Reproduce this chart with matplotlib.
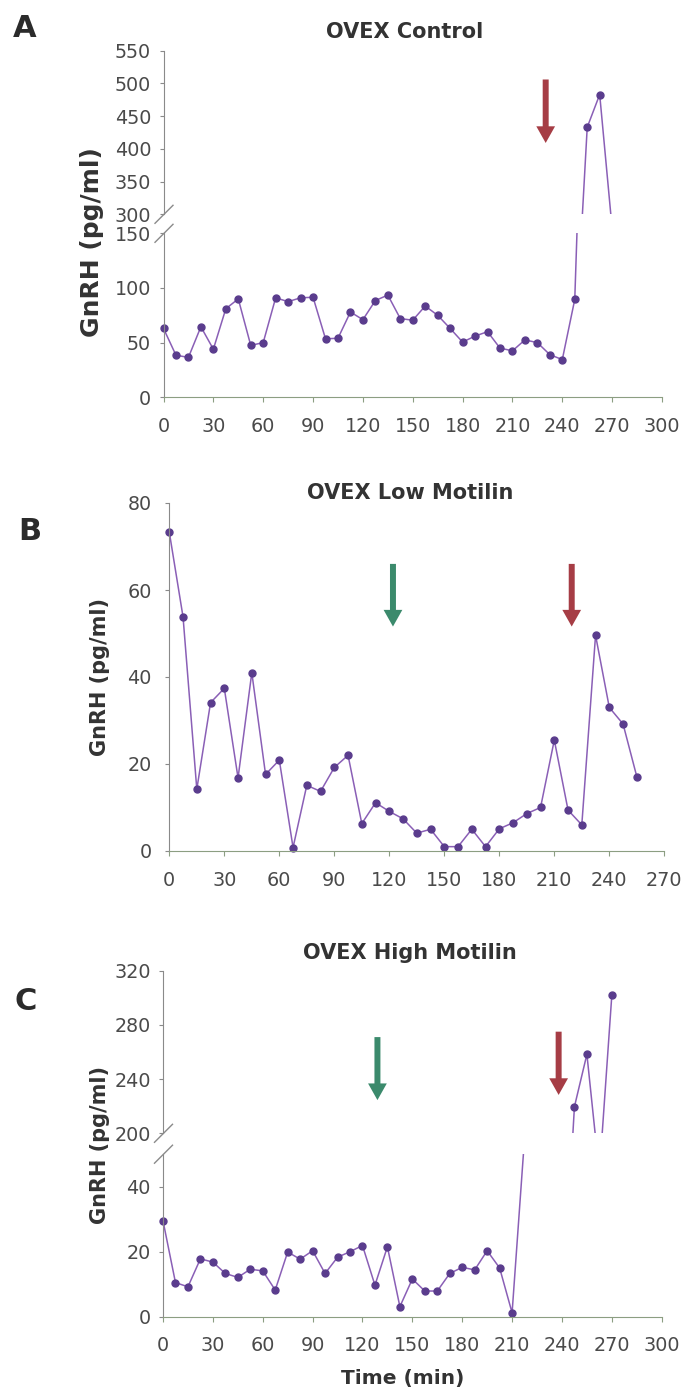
import numpy as np
import matplotlib.pyplot as plt
from matplotlib.lines import Line2D
from matplotlib.patches import Rectangle

plt.rcParams['font.family'] = ['DejaVu Sans']

# ---- data ----
time_a = [0, 7.5, 15, 22.5, 30, 37.5, 45, 52.5, 60, 67.5, 75, 82.5, 90, 97.5,
          105, 112.5, 120, 127.5, 135, 142.5, 150, 157.5, 165, 172.5, 180,
          187.5, 195, 202.5, 210, 217.5, 225, 232.5, 240, 247.5, 255, 262.5, 270]
gnrh_a = [63, 38.5, 36.5, 64.5, 44, 81, 90, 47.5, 50, 91, 87.5, 91, 91.5, 53.5,
          54, 78, 71, 88.5, 93.5, 72, 70.5, 83.5, 75, 63, 50.5, 56, 60, 45,
          42.5, 52.5, 50, 39, 34.5, 89.5, 433, 483, 278]

time_b = [0, 7.5, 15, 22.5, 30, 37.5, 45, 52.5, 60, 67.5, 75, 82.5, 90, 97.5,
          105, 112.5, 120, 127.5, 135, 142.5, 150, 157.5, 165, 172.5, 180,
          187.5, 195, 202.5, 210, 217.5, 225, 232.5, 240, 247.5, 255]
gnrh_b = [73.3, 53.8, 14.2, 34.1, 37.4, 16.8, 41, 17.6, 20.9, 0.8, 15.1, 13.7,
          19.2, 22, 6.3, 11.1, 9.1, 7.4, 4.1, 5, 1, 1, 5, 1, 5.1, 6.5, 8.6, 10,
          25.5, 9.4, 6, 49.6, 33, 29.2, 17.1]

time_c = [0, 7.5, 15, 22.5, 30, 37.5, 45, 52.5, 60, 67.5, 75, 82.5, 90, 97.5,
          105, 112.5, 120, 127.5, 135, 142.5, 150, 157.5, 165, 172.5, 180,
          187.5, 195, 202.5, 210, 217.5, 225, 232.5, 240, 247.5, 255, 262.5, 270]
gnrh_c = [29.5, 10.5, 9.2, 17.8, 16.8, 13.3, 12.1, 14.6, 14.1, 8.2, 19.9, 17.7,
          20.3, 13.3, 18.3, 20, 21.9, 9.7, 21.5, 3.1, 11.6, 7.9, 7.9, 13.3, 15.2,
          14.4, 20.3, 15, 1.2, 55, np.nan, np.nan, 60, 219.6, 258.3, 170, 302]

titles = ['OVEX Control', 'OVEX Low Motilin', 'OVEX High Motilin']

# ---- style ----
W, H = 687, 1391
LINE = '#8a5fb6'
MARK = '#5a3c8d'
AX_GRAY = '#8a8a8a'
AX_GREEN = '#8c9e82'
TXT = '#4a4a4a'
DARK = '#333333'
RED = '#a63d45'
GREEN = '#3b8a6c'
TICK_FS = 13.8

fig = plt.figure(figsize=(W / 100, H / 100), dpi=100)
fig.patch.set_facecolor('white')


def px_axes(x0, x1, ytop, ybot):
    return fig.add_axes([x0 / W, 1 - ybot / H, (x1 - x0) / W, (ybot - ytop) / H])


def style(ax, bottom=True, ypad=6):
    ax.set_facecolor('none')
    for s in ['top', 'right']:
        ax.spines[s].set_visible(False)
    ax.spines['left'].set_color(AX_GRAY)
    ax.spines['bottom'].set_color(AX_GREEN)
    ax.tick_params(axis='y', direction='out', length=2.9, width=0.8,
                   colors=AX_GRAY, pad=ypad)
    ax.tick_params(axis='y', labelcolor=TXT, labelsize=TICK_FS)
    ax.tick_params(axis='x', direction='out', length=3.6, width=0.8,
                   colors=AX_GREEN, pad=10.5)
    ax.tick_params(axis='x', labelcolor=TXT, labelsize=TICK_FS)
    if not bottom:
        ax.spines['bottom'].set_visible(False)
        ax.tick_params(axis='x', bottom=False, labelbottom=False)


def draw(ax, t, v, clip=None):
    lines = ax.plot(t, v, color=LINE, lw=1.1, marker='o', ms=5,
                    mfc=MARK, mec=MARK)
    for ln in lines:
        if clip is None:
            ln.set_clip_on(False)
        else:
            ln.set_clip_path(Rectangle(clip[:2], clip[2], clip[3],
                                       transform=ax.transAxes))


def brk(x, y):
    fig.add_artist(Line2D([(x - 9) / W, (x + 9) / W],
                          [1 - (y + 9) / H, 1 - (y - 9) / H],
                          transform=fig.transFigure, color=AX_GRAY, lw=1))


def arrow(ax, t, top, tip, color):
    ax.annotate('', xy=(t, tip), xytext=(t, top), annotation_clip=False,
                arrowprops=dict(facecolor=color, edgecolor='none', width=4.3,
                                headwidth=13.5, headlength=12, shrink=0))


LOWCLIP = (-0.05, -0.06, 1.1, 1.06)
UPCLIP = (-0.05, 0, 1.1, 1.06)

# ---- panel A ----
a_up = px_axes(163.5, 662, 50.7, 214.3)
a_lo = px_axes(163.5, 662, 233.3, 397.3)
for ax in (a_up, a_lo):
    ax.set_xlim(0, 300)
a_up.set_ylim(300, 550)
a_up.set_yticks(np.arange(300, 551, 50))
a_lo.set_ylim(0, 150)
a_lo.set_yticks([0, 50, 100, 150])
a_lo.set_xticks(np.arange(0, 301, 30))
style(a_up, bottom=False)
style(a_lo)
draw(a_up, time_a, gnrh_a, UPCLIP)
draw(a_lo, time_a, gnrh_a, LOWCLIP)
arrow(a_up, 230, 506, 409, RED)
brk(164, 214.3)
brk(164, 233.3)

# ---- panel B ----
b = px_axes(169.3, 664.3, 503, 851)
b.set_xlim(0, 270)
b.set_ylim(0, 80)
b.set_xticks(np.arange(0, 271, 30))
b.set_yticks([0, 20, 40, 60, 80])
style(b, ypad=9.8)
draw(b, time_b, gnrh_b)
arrow(b, 122, 66, 51.6, GREEN)
arrow(b, 219.5, 66, 51.6, RED)

# ---- panel C ----
c_up = px_axes(163, 661.7, 970.7, 1133.3)
c_lo = px_axes(163, 661.7, 1154.2, 1316.7)
for ax in (c_up, c_lo):
    ax.set_xlim(0, 300)
c_up.set_ylim(200, 320)
c_up.set_yticks([200, 240, 280, 320])
c_lo.set_ylim(0, 50)
c_lo.set_yticks([0, 20, 40])
c_lo.set_xticks(np.arange(0, 301, 30))
style(c_up, bottom=False)
style(c_lo)
draw(c_up, time_c, gnrh_c, UPCLIP)
draw(c_lo, time_c, gnrh_c, LOWCLIP)
arrow(c_up, 129, 271, 224.5, GREEN)
arrow(c_up, 238, 275, 228.3, RED)
brk(163.5, 1133.3)
brk(163.5, 1154.2)

# ---- texts ----
for (x, y), s in zip([(405, 38.3), (410, 499.4), (410, 959.4)], titles):
    fig.text(x / W, 1 - y / H, s, ha='center', va='baseline', fontsize=15,
             fontweight='bold', color=DARK)
for (x, y), s in zip([(13, 37.3), (18, 539.5), (14, 1009.5)], 'ABC'):
    fig.text(x / W, 1 - y / H, s, ha='left', va='baseline', fontsize=22,
             fontweight='bold', color='#2b2b2b')
for (x, y, fs) in [(92, 242, 18), (100, 677.5, 15), (100, 1145, 15)]:
    fig.text(x / W, 1 - y / H, 'GnRH (pg/ml)', rotation=90, ha='center',
             va='center', fontsize=fs, fontweight='bold', color=DARK)
fig.text(403 / W, 1 - 1384 / H, 'Time (min)', ha='center', va='baseline',
         fontsize=14.5, fontweight='bold', color=DARK)

fig.savefig('out.png', dpi=100, facecolor='white')
